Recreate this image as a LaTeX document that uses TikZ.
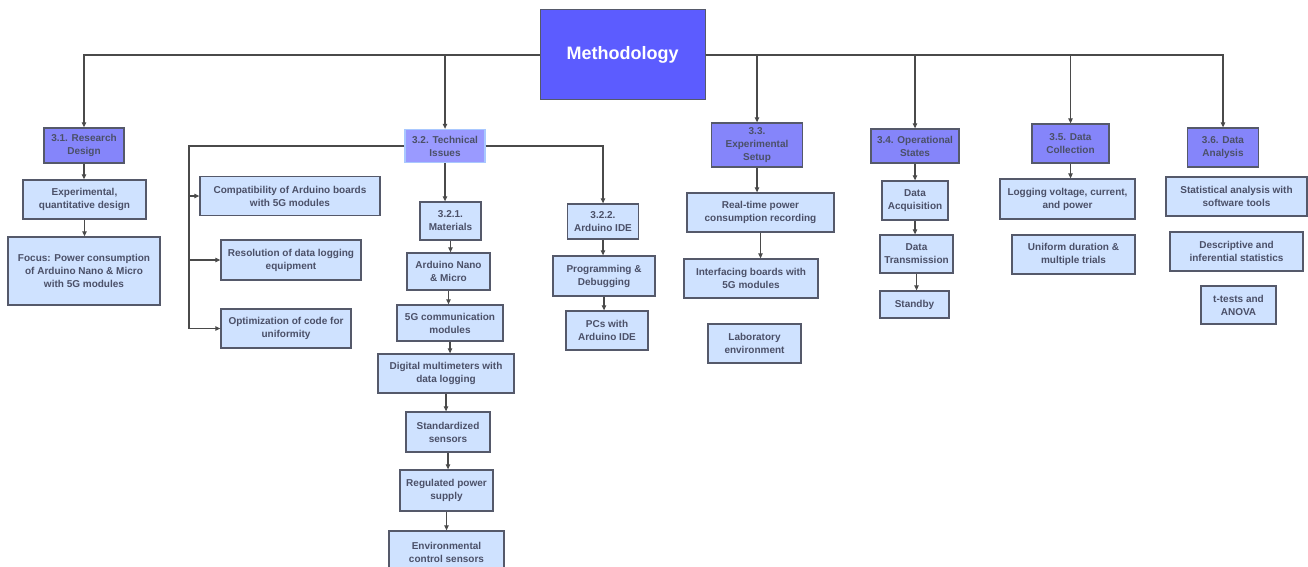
\documentclass[tikz,border=0pt]{standalone}
\usepackage{fontspec}
\setmainfont{Liberation Sans}
\usetikzlibrary{arrows.meta}
\definecolor{methfill}{HTML}{5C5CFF}
\definecolor{secfill}{HTML}{8585FA}
\definecolor{secfillb}{HTML}{9A9AFF}
\definecolor{secbordb}{HTML}{A9C8FF}
\definecolor{leaffill}{HTML}{CFE2FF}
\definecolor{boxline}{HTML}{55596A}
\definecolor{txt}{HTML}{4B5068}
\definecolor{conn}{HTML}{4A4A4A}
\tikzset{
  base/.style={draw=boxline, line width=1.3pt, inner sep=0pt, align=center,
    text=txt, font=\fontsize{10}{13}\selectfont\bfseries},
  leaf/.style={base, fill=leaffill},
  sec/.style={base, fill=secfill, draw=boxline},
  secb/.style={base, fill=secfillb, draw=secbordb},
  meth/.style={draw=boxline, line width=1pt, fill=methfill, text=white,
    font=\fontsize{18}{20}\selectfont\bfseries, inner sep=0pt},
  conn/.style={draw=conn, line width=1.1pt},
  arr/.style={conn, -{Triangle[length=5pt,width=4.5pt]}},
  wh/.style args={#1/#2}{minimum width=#1pt, minimum height=#2pt}
}
\begin{document}
\begin{tikzpicture}[x=1pt,y=-1pt]
\useasboundingbox[fill=white] (0,0) rectangle (1308,567);
% root
\node[meth, wh=165/90] (meth) at (622.5,55) {Methodology};
% sections
\node[sec, wh=80/35] (s31) at (84,145.5) {3.1. Research\\Design};
\node[secb, wh=80/33] (s32) at (445,146) {3.2. Technical\\Issues};
\node[sec, wh=91/44] (s33) at (757,145) {3.3.\\Experimental\\Setup};
\node[sec, wh=88/34] (s34) at (915,146) {3.4. Operational\\States};
\node[sec, wh=77/39] (s35) at (1070.5,143.5) {3.5. Data\\Collection};
\node[sec, wh=71/39] (s36) at (1223,147.5) {3.6. Data\\Analysis};
% 3.1 children
\node[leaf, wh=123/39] (rd1) at (84.5,199.5) {Experimental,\\quantitative design};
\node[leaf, wh=152/68] (rd2) at (84,271) {Focus: Power consumption\\of Arduino Nano \& Micro\\with 5G modules};
% 3.2 children
\node[leaf, wh=180/39] (ti1) at (290,196) {Compatibility of Arduino boards\\with 5G modules};
\node[leaf, wh=140/40] (ti2) at (291,260) {Resolution of data logging\\equipment};
\node[leaf, wh=130/39] (ti3) at (286,328.5) {Optimization of code for\\uniformity};
\node[leaf, wh=61/38] (s321) at (450.5,221) {3.2.1.\\Materials};
\node[leaf, wh=83/37] (m1) at (448.5,271.5) {Arduino Nano\\\& Micro};
\node[leaf, wh=106/36] (m2) at (450,323) {5G communication\\modules};
\node[leaf, wh=136/39] (m3) at (446,373.5) {Digital multimeters with\\data logging};
\node[leaf, wh=84/40] (m4) at (448,432) {Standardized\\sensors};
\node[leaf, wh=93/41] (m5) at (446.5,490.5) {Regulated power\\supply};
\node[leaf, wh=115/42] (m6) at (446.5,552) {Environmental\\control sensors};
\node[leaf, wh=71/35] (s322) at (603,221.5) {3.2.2.\\Arduino IDE};
\node[leaf, wh=102/40] (p1) at (604,276) {Programming \&\\Debugging};
\node[leaf, wh=82/39] (p2) at (607,330.5) {PCs with\\Arduino IDE};
% 3.3 children
\node[leaf, wh=147/39] (e1) at (760.5,212.5) {Real-time power\\consumption recording};
\node[leaf, wh=134/39] (e2) at (751,278.5) {Interfacing boards with\\5G modules};
\node[leaf, wh=93/39] (e3) at (754.5,343.5) {Laboratory\\environment};
% 3.4 children
\node[leaf, wh=66/39] (o1) at (915,200.5) {Data\\Acquisition};
\node[leaf, wh=73/38] (o2) at (916.5,254) {Data\\Transmission};
\node[leaf, wh=69/27] (o3) at (914.5,304.5) {Standby};
% 3.5 children
\node[leaf, wh=135/40] (c1) at (1067.5,199) {Logging voltage, current,\\and power};
\node[leaf, wh=123/39] (c2) at (1073.5,254.5) {Uniform duration \&\\multiple trials};
% 3.6 children
\node[leaf, wh=141/39] (a1) at (1236.5,196.5) {Statistical analysis with\\software tools};
\node[leaf, wh=133/39] (a2) at (1236.5,251.5) {Descriptive and\\inferential statistics};
\node[leaf, wh=75/38] (a3) at (1238.5,305) {t-tests and\\ANOVA};
% root connectors
\draw[arr] (meth.west) -| (s31.north);
\draw[arr] (meth.west) -| (s32.north);
\draw[arr] (meth.east) -| (s33.north);
\draw[arr] (meth.east) -| (s34.north);
\draw[arr] (meth.east) -| (s35.north);
\draw[arr] (meth.east) -| (s36.north);
% 3.1 chain
\draw[arr] (s31.south) -- (s31.south |- rd1.north);
\draw[arr] (rd1.south) -- (rd1.south |- rd2.north);
% 3.2 bracket
\coordinate (bl) at (189,328.5);
\draw[arr] (s32.west) -| (bl) -- (ti3.west);
\draw[arr] (bl |- ti1.west) -- (ti1.west);
\draw[arr] (bl |- ti2.west) -- (ti2.west);
\draw[arr] (s32.east) -| (s322.north);
\draw[arr] (s32.south) -- (s32.south |- s321.north);
\draw[arr] (s321.south) -- (s321.south |- m1.north);
\draw[arr] (m1.south) -- (m1.south |- m2.north);
\draw[arr] (m2.south) -- (m2.south |- m3.north);
\draw[arr] (m3.south) -- (m3.south |- m4.north);
\draw[arr] (m4.south) -- (m4.south |- m5.north);
\draw[arr] (m5.south) -- (m5.south |- m6.north);
\draw[arr] (s322.south) -- (s322.south |- p1.north);
\draw[arr] (p1.south) -- (p1.south |- p2.north);
% 3.3 chain
\draw[arr] (s33.south) -- (s33.south |- e1.north);
\draw[arr] (e1.south) -- (e1.south |- e2.north);
% 3.4 chain
\draw[arr] (s34.south) -- (s34.south |- o1.north);
\draw[arr] (o1.south) -- (o1.south |- o2.north);
\draw[arr] (o2.south) -- (o2.south |- o3.north);
% 3.5
\draw[arr] (s35.south) -- (s35.south |- c1.north);
\end{tikzpicture}
\end{document}
